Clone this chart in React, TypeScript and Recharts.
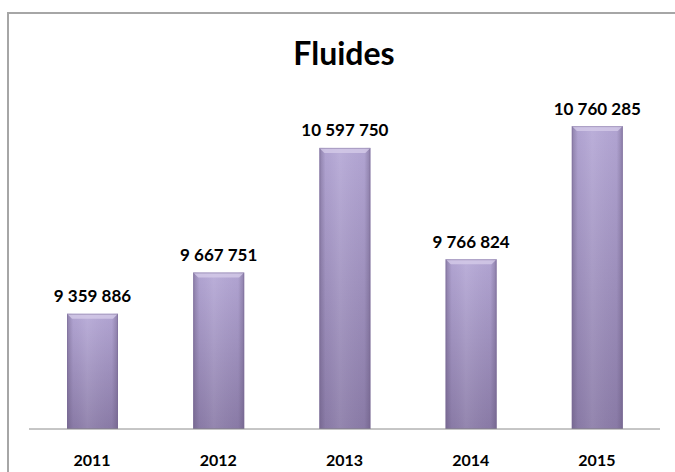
import { BarChart, Bar, XAxis, YAxis, LabelList } from 'recharts';

const years = ['2011', '2012', '2013', '2014', '2015'];
const amounts = [9359886, 9667751, 10597750, 9766824, 10760285];
const yDomain = [8500000, 11000000];

const data = years.map((year, i) => ({ year, value: amounts[i] }));

const font = 'Lato, "Open Sans", sans-serif';

const fmt = (v: number) => String(v).replace(/\B(?=(\d{3})+(?!\d))/g, ' ');

// bar drawn like a rounded glass tube, lighter at the top
function TubeBar(props: any) {
  const { x, y, width, height } = props;
  if (!height || height <= 0) return null;
  const b = 5;
  return (
    <g>
      <rect x={x} y={y} width={width} height={height} fill="url(#tubeV)" />
      <rect x={x} y={y} width={width} height={height} fill="url(#tubeH)" />
      <polygon
        points={`${x},${y} ${x + width},${y} ${x + width - b},${y + b} ${x + b},${y + b}`}
        fill="#d4cbe8"
        opacity={0.8}
      />
      <rect x={x + 0.5} y={y + 0.5} width={width - 1} height={height - 1} fill="none" stroke="#7a6b96" strokeOpacity={0.45} />
    </g>
  );
}

function ValueLabel(props: any) {
  const { x, y, width, value } = props;
  return (
    <text
      x={x + width / 2}
      y={y - 18}
      textAnchor="middle"
      dominantBaseline="central"
      fontFamily={font}
      fontWeight={700}
      fontSize={17}
      fill="#000"
    >
      {fmt(value)}
    </text>
  );
}

function YearTick(props: any) {
  const { x, y, payload } = props;
  return (
    <text x={x} y={y + 22} textAnchor="middle" dominantBaseline="central" fontFamily={font} fontWeight={700} fontSize={16} fill="#000">
      {payload.value}
    </text>
  );
}

export default function App() {
  return (
    <div style={{ position: 'fixed', left: 0, top: 0, width: 675, height: 472, overflow: 'hidden', background: '#fff' }}>
      <div
        style={{
          position: 'absolute',
          left: 7,
          top: 12,
          width: 760,
          height: 560,
          borderTop: '2px solid #a6a6a6',
          borderLeft: '2px solid #a6a6a6',
          boxSizing: 'border-box',
        }}
      />
      <div
        style={{
          position: 'absolute',
          left: 8,
          width: 672,
          top: 33,
          textAlign: 'center',
          fontFamily: font,
          fontWeight: 700,
          fontSize: 32,
          lineHeight: '40px',
          color: '#000',
        }}
      >
        Fluides
      </div>
      <div style={{ position: 'absolute', left: 8, top: 13 }}>
        <BarChart width={667} height={459} data={data} margin={{ top: 81, right: 15, bottom: 13, left: 21 }}>
          <defs>
            <linearGradient id="tubeV" x1="0" y1="0" x2="0" y2="1">
              <stop offset="0%" stopColor="#b5a8d6" />
              <stop offset="100%" stopColor="#8b7ca8" />
            </linearGradient>
            <linearGradient id="tubeH" x1="0" y1="0" x2="1" y2="0">
              <stop offset="0%" stopColor="#5e5075" stopOpacity={0.45} />
              <stop offset="12%" stopColor="#5e5075" stopOpacity={0.05} />
              <stop offset="40%" stopColor="#ffffff" stopOpacity={0.08} />
              <stop offset="88%" stopColor="#5e5075" stopOpacity={0.05} />
              <stop offset="100%" stopColor="#5e5075" stopOpacity={0.45} />
            </linearGradient>
          </defs>
          <XAxis
            dataKey="year"
            height={30}
            axisLine={{ stroke: '#8c8c8c', strokeWidth: 1 }}
            tickLine={false}
            tick={<YearTick />}
            interval={0}
          />
          <YAxis hide domain={yDomain} allowDataOverflow />
          <Bar dataKey="value" barSize={51} shape={<TubeBar />} isAnimationActive={false}>
            <LabelList dataKey="value" content={<ValueLabel />} />
          </Bar>
        </BarChart>
      </div>
    </div>
  );
}
